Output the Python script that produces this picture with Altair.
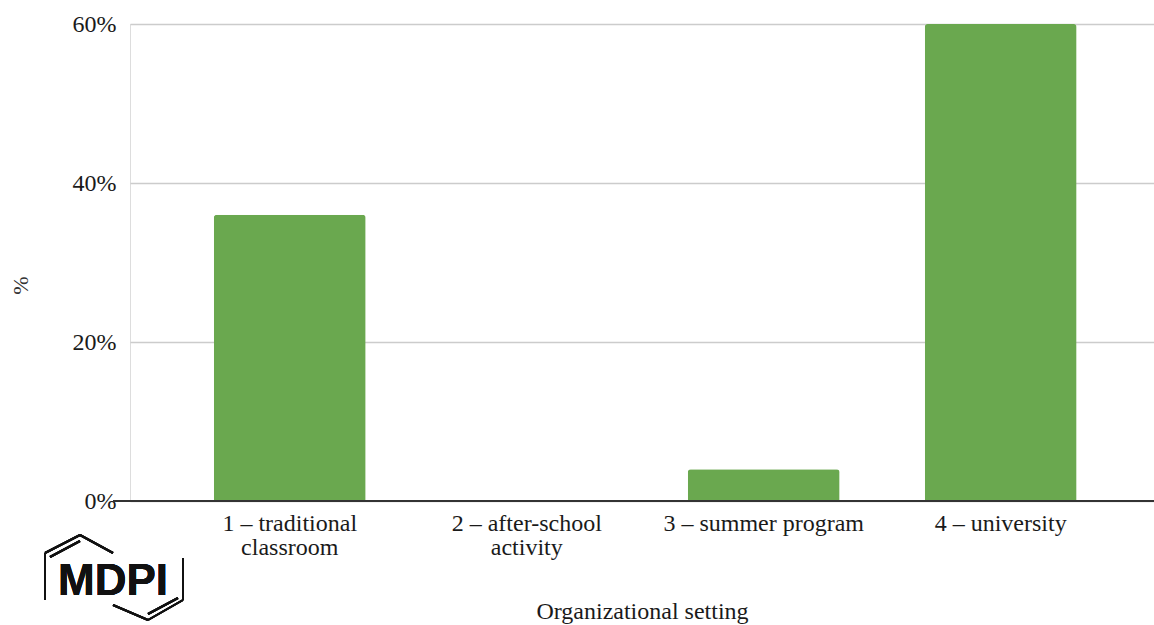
import altair as alt
import pandas as pd

categories = ["1 – traditional\nclassroom", "2 – after-school\nactivity", "3 – summer program", "4 – university"]
values = [36, 0, 4, 60]
y_ticks = [0, 20, 40, 60]

W, H = 1024, 477
df = pd.DataFrame({"setting": categories, "pct": values})

serif = "'Liberation Serif', 'Times New Roman', Times, serif"

bars = alt.Chart(df).mark_bar(
    color="#6aa84f", cornerRadiusTopLeft=3, cornerRadiusTopRight=3
).encode(
    x=alt.X("setting:N", sort=categories,
            scale=alt.Scale(paddingInner=0.359, paddingOuter=0.34, align=0.52),
            axis=alt.Axis(title="Organizational setting", labelAngle=0,
                          labelExpr="split(datum.label, '\\n')",
                          labelFont=serif, labelFontSize=24, labelColor="#1a1a1a",
                          labelLineHeight=24, labelPadding=10, labelLimit=400,
                          labelOverlap=False, ticks=False, domain=False,
                          titleFont=serif, titleFontSize=24, titleFontWeight="normal",
                          titleColor="#1a1a1a", titleY=117, titleBaseline="alphabetic")),
    y=alt.Y("pct:Q", scale=alt.Scale(domain=[0, 60], nice=False),
            axis=alt.Axis(values=y_ticks, labelExpr="datum.value + '%'",
                          title="%", labelFont=serif, labelFontSize=24, labelColor="#1a1a1a",
                          labelPadding=14, ticks=False, domain=False,
                          grid=True, gridColor="#cccccc", gridWidth=1.5,
                          titleFont=serif, titleFontSize=22, titleFontWeight="normal",
                          titleColor="#333", titleX=-98, titleY=261))
)

baseline = alt.Chart(df).mark_rule(color="#333333", strokeWidth=2).encode(
    y=alt.datum(0), x=alt.value(-17), x2=alt.value(W)
)

# MDPI logo (decoration)
logo_segments = [
    (-85, 529, -85, 576),
    (-85, 529, -50, 511),
    (-80, 533, -50, 517),
    (-50, 511, -17, 529),
    (53, 534, 53, 576),
    (53, 576, 18, 596),
    (48, 574, 18, 590),
    (18, 596, -17, 581),
]
logo_layers = []
for (x1, y1, x2, y2) in logo_segments:
    logo_layers.append(
        alt.Chart(df).mark_rule(color="#111111", strokeWidth=2).encode(
            x=alt.value(x1), y=alt.value(y1), x2=alt.value(x2), y2=alt.value(y2)
        )
    )
logo_text = alt.Chart(df).mark_text(
    text="MDPI", font="Liberation Sans", fontWeight="bold", fontSize=44,
    color="#111111", align="center", baseline="alphabetic"
).encode(x=alt.value(-17), y=alt.value(571))

chart = alt.layer(bars, baseline, *logo_layers, logo_text).properties(
    width=W, height=H,
    autosize=alt.AutoSizeParams(type="none"),
    padding={"left": 130, "top": 24, "right": 0, "bottom": 124},
).configure_view(strokeWidth=0, stroke="transparent").configure(background="white")

chart.save("out.html", embed_options={"renderer": "svg", "actions": False})
